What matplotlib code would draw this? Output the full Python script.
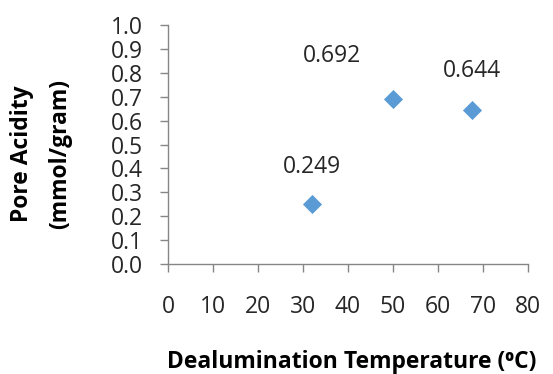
import matplotlib
matplotlib.use("Agg")
import matplotlib.pyplot as plt

# data
temperature = [32, 50, 67.5]
pore_acidity = [0.249, 0.692, 0.644]
point_labels = ["0.249", "0.692", "0.644"]
# label offsets (points) relative to each marker
label_offsets = [(0, 27), (-44, 31), (0, 28)]

plt.rcParams['font.family'] = ['Open Sans', 'DejaVu Sans']
axis_grey = "#868686"

fig = plt.figure(figsize=(5.53, 3.74), dpi=100)
ax = fig.add_axes([0.3038, 0.2941, 0.651, 0.639])

ax.scatter(temperature, pore_acidity, marker="D", s=95, color="#5B9BD5", zorder=3, linewidths=0)
for x, y, lab, off in zip(temperature, pore_acidity, point_labels, label_offsets):
    ax.annotate(lab, (x, y), xytext=off, textcoords="offset points",
                ha="center", va="center", fontsize=16.5, color="#262626")

ax.set_xlim(0, 80)
ax.set_ylim(0, 1.0)
ax.set_xticks(range(0, 81, 10))
ax.set_yticks([i / 10 for i in range(11)])
ax.set_yticklabels([f"{i / 10:.1f}" for i in range(11)])

for side in ("top", "right"):
    ax.spines[side].set_visible(False)
for side in ("left", "bottom"):
    ax.spines[side].set_color(axis_grey)
    ax.spines[side].set_linewidth(1.0)

ax.tick_params(axis="both", direction="out", length=6, width=1.0, color=axis_grey,
               labelsize=16.5, labelcolor="#262626")
ax.tick_params(axis="y", pad=12)
ax.tick_params(axis="x", pad=16)

ax.set_ylabel("Pore Acidity\n(mmol/gram)", fontsize=16.5, fontweight="bold",
              linespacing=1.75, va="center")
ax.yaxis.set_label_coords(-0.353, 0.46)
ax.set_xlabel("Dealumination Temperature (\u2070C)", fontsize=16.5, fontweight="bold",
              va="center")
ax.xaxis.set_label_coords(0.51, -0.41)

fig.savefig("out.png", dpi=100)
